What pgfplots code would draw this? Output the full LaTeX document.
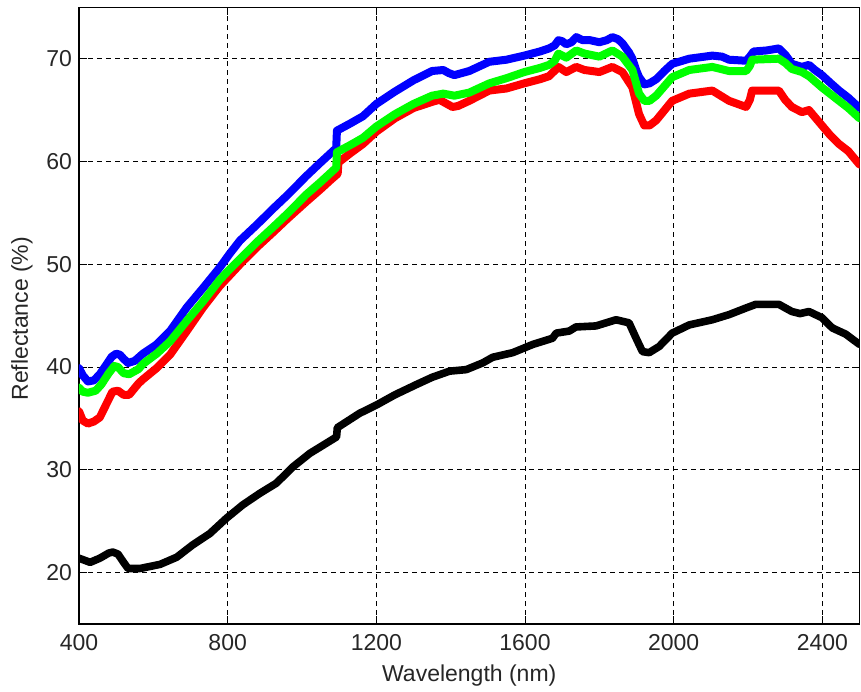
\documentclass[border=0pt]{standalone}
\usepackage{fontspec}
\setmainfont{Liberation Sans}
\usepackage{pgfplots}
\pgfplotsset{compat=1.18}
\begin{document}
\begin{tikzpicture}
\useasboundingbox (-39.5pt,-33.5pt) rectangle (391pt,312pt);
\begin{axis}[
  at={(0,0)}, anchor=south west,
  scale only axis, width=390.25pt, height=308.35pt,
  xmin=400, xmax=2500, ymin=15, ymax=75,
  xtick={400,800,...,2400}, ytick={20,30,...,70},
  grid=major,
  major grid style={black, dash pattern=on 2.5pt off 2pt, line width=0.5pt},
  axis line style={black, line width=0.6pt},
  tick align=inside, tick pos=both, major tick length=4pt,
  tick style={black, line width=0.5pt},
  ticklabel style={font=\fontsize{11.5}{13}\selectfont, text=black!85},
  xticklabel style={yshift=-1.7pt},
  /pgf/number format/assume math mode=true,
  /pgf/number format/1000 sep={},
  xlabel={Wavelength (nm)}, ylabel={Reflectance (\%)},
  label style={font=\fontsize{11.5}{13}\selectfont, text=black!85},
  xlabel style={at={(axis description cs:0.5,-0.0843)}, anchor=center},
  ylabel style={at={(axis description cs:-0.073,0.495)}, anchor=center},
  every axis plot/.append style={line join=round, line cap=round, mark=none},
]
\addplot[blue, line width=4pt] coordinates {
(400,39.9)(410,39.2)(424,38.6)(440,38.7)(456,39.3)(475,40.3)(488,41.0)(500,41.3)(510,41.2)(520,40.8)(532,40.4)(550,40.6)(572,41.3)(609,42.2)(645,43.5)(690,45.8)(734,47.7)(779,49.7)(805,51.0)(833,52.3)(880,53.9)(922,55.4)(960,56.7)(1012,58.6)(1050,59.9)(1074,60.7)(1092,61.3)(1094,63.0)(1130,63.7)(1164,64.4)(1200,65.6)(1250,66.8)(1300,67.9)(1350,68.8)(1380,68.9)(1395,68.6)(1410,68.4)(1450,68.8)(1504,69.7)(1550,69.9)(1598,70.3)(1640,70.7)(1665,71.0)(1680,71.3)(1690,71.8)(1700,71.7)(1711,71.4)(1725,71.6)(1738,72.1)(1755,71.8)(1775,71.8)(1800,71.6)(1820,71.8)(1835,72.1)(1850,71.9)(1862,71.5)(1880,70.6)(1889,70.0)(1900,68.8)(1907,68.2)(1921,67.5)(1935,67.6)(1953,68.0)(1975,68.8)(1996,69.5)(2042,70.0)(2104,70.3)(2130,70.2)(2149,69.9)(2195,69.8)(2205,70.2)(2215,70.7)(2250,70.8)(2283,71.0)(2300,70.4)(2318,69.5)(2345,69.2)(2364,69.4)(2380,68.9)(2399,68.4)(2420,67.7)(2445,66.9)(2470,66.2)(2500,65.2)
};
\addplot[red, line width=4pt] coordinates {
(400,35.7)(410,34.8)(424,34.5)(440,34.7)(456,35.1)(475,36.5)(490,37.6)(505,37.7)(520,37.3)(535,37.3)(560,38.4)(572,38.8)(609,39.9)(645,41.2)(690,43.5)(734,45.8)(779,47.9)(805,48.9)(841,50.3)(880,51.7)(922,53.1)(960,54.4)(1012,56.1)(1050,57.3)(1074,58.1)(1096,58.8)(1098,59.9)(1130,60.8)(1164,61.7)(1200,62.9)(1250,64.2)(1300,65.2)(1350,65.8)(1370,66.0)(1390,65.6)(1405,65.3)(1420,65.4)(1450,65.9)(1504,66.9)(1550,67.1)(1598,67.6)(1640,68.0)(1665,68.3)(1690,69.2)(1711,68.7)(1738,69.2)(1760,68.9)(1800,68.7)(1835,69.2)(1862,68.7)(1889,67.2)(1907,64.6)(1921,63.5)(1935,63.5)(1953,64.0)(1996,65.9)(2042,66.6)(2104,66.9)(2149,65.9)(2195,65.3)(2205,66.0)(2211,66.9)(2283,66.9)(2300,66.0)(2318,65.3)(2345,64.8)(2364,65.0)(2399,63.5)(2420,62.6)(2445,61.7)(2470,61.0)(2500,59.7)
};
\addplot[green, line width=4pt] coordinates {
(400,38.0)(410,37.6)(424,37.5)(445,37.7)(460,38.3)(480,39.4)(495,40.1)(505,40.0)(520,39.4)(535,39.3)(560,39.8)(572,40.3)(609,41.3)(645,42.5)(690,44.5)(734,46.4)(779,48.5)(805,49.5)(841,50.8)(880,52.2)(922,53.6)(960,54.9)(1012,56.8)(1050,58.0)(1074,58.8)(1092,59.4)(1094,60.9)(1130,61.6)(1164,62.3)(1200,63.4)(1250,64.6)(1300,65.6)(1350,66.4)(1380,66.6)(1410,66.4)(1450,66.7)(1504,67.6)(1550,68.1)(1598,68.7)(1640,69.1)(1665,69.4)(1680,69.8)(1690,70.5)(1711,70.1)(1738,70.8)(1760,70.5)(1800,70.2)(1835,70.8)(1862,70.2)(1889,68.9)(1907,66.6)(1921,65.9)(1935,65.9)(1953,66.4)(1996,68.2)(2042,68.9)(2104,69.2)(2149,68.8)(2195,68.8)(2205,69.3)(2211,69.9)(2283,70.0)(2300,69.6)(2318,69.0)(2345,68.7)(2364,68.3)(2399,67.2)(2445,65.9)(2470,65.2)(2500,64.2)
};
\addplot[black, line width=3.8pt] coordinates {
(400,21.4)(430,21.0)(456,21.4)(480,21.9)(491,22.0)(505,21.8)(520,21.0)(532,20.4)(564,20.4)(618,20.8)(663,21.5)(706,22.7)(752,23.8)(797,25.3)(841,26.6)(886,27.7)(931,28.7)(976,30.3)(1021,31.6)(1066,32.6)(1093,33.2)(1095,34.1)(1155,35.5)(1200,36.3)(1250,37.3)(1308,38.3)(1350,39.0)(1397,39.6)(1442,39.75)(1486,40.4)(1513,40.95)(1567,41.4)(1621,42.2)(1674,42.8)(1684,43.3)(1719,43.5)(1737,43.9)(1791,44.0)(1845,44.6)(1880,44.3)(1899,42.8)(1916,41.5)(1934,41.4)(1961,42.0)(1996,43.3)(2042,44.1)(2104,44.6)(2149,45.1)(2195,45.75)(2221,46.1)(2283,46.1)(2318,45.4)(2340,45.2)(2364,45.4)(2399,44.8)(2427,43.8)(2463,43.2)(2500,42.2)
};
\end{axis}
\end{tikzpicture}
\end{document}
